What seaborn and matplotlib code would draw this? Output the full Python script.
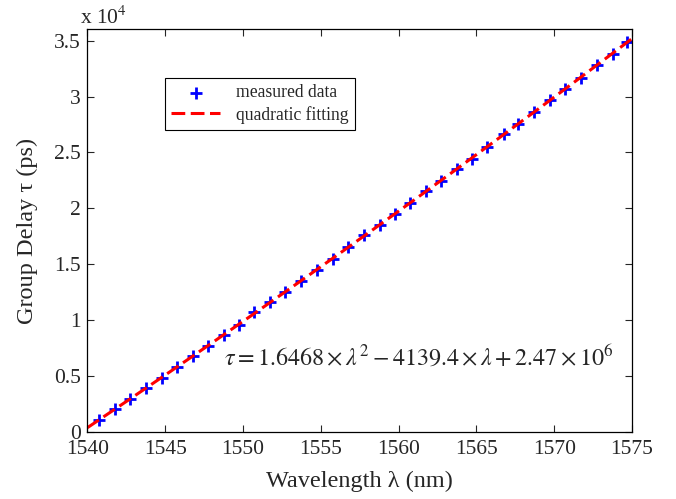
import matplotlib
matplotlib.use("Agg")
import matplotlib.pyplot as plt
import numpy as np
import pandas as pd
import seaborn as sns

# measured group delay
wavelength = [1540.75, 1541.77, 1542.73, 1543.76, 1544.81, 1545.73, 1546.80,
              1547.72, 1548.75, 1549.76, 1550.70, 1551.73, 1552.71, 1553.72,
              1554.73, 1555.76, 1556.76, 1557.77, 1558.80, 1559.76, 1560.73,
              1561.75, 1562.70, 1563.76, 1564.73, 1565.69, 1566.76, 1567.68,
              1568.69, 1569.72, 1570.69, 1571.72, 1572.73, 1573.76, 1574.69]
delay = [1070, 2030, 2970, 3960, 4880, 5860, 6790, 7710, 8700, 9620,
         10740, 11630, 12530, 13480, 14530, 15510, 16520, 17590, 18480,
         19530, 20470, 21580, 22470, 23510, 24440, 25470, 26630, 27530,
         28660, 29670, 30650, 31700, 32830, 33840, 34910]

x_ticks = [1540, 1545, 1550, 1555, 1560, 1565, 1570, 1575]
y_ticks = [0, 5000, 10000, 15000, 20000, 25000, 30000, 35000]
y_tick_labels = ["0", "0.5", "1", "1.5", "2", "2.5", "3", "3.5"]
equation = (r"$\tau = 1.6468\times\lambda^2 - 4139.4\times\lambda"
            r" + 2.47\times10^6$")

sns.set_style("ticks")
plt.rcParams["font.family"] = ["Liberation Serif", "DejaVu Serif"]
plt.rcParams["mathtext.fontset"] = "stix"

df = pd.DataFrame({"Wavelength": wavelength, "Delay": delay})

# quadratic fit of the measured points
coef = np.polyfit(df["Wavelength"], df["Delay"], 2)
fit = pd.DataFrame({"Wavelength": np.linspace(1540, 1575, 200)})
fit["Delay"] = np.polyval(coef, fit["Wavelength"])

fig = plt.figure(figsize=(6.76, 4.99), dpi=100)
ax = fig.add_axes([0.1294, 0.134, 0.8055, 0.807])

sns.scatterplot(df, x="Wavelength", y="Delay", marker="+", s=80,
                color="blue", linewidth=2, label="measured data", ax=ax)
sns.lineplot(fit, x="Wavelength", y="Delay", color="red", linewidth=2.2,
             label="quadratic fitting", ax=ax)
ax.lines[0].set_dashes([4.5, 1.8])

ax.set_xlim(1540, 1575)
ax.set_ylim(0, 36000)
ax.set_xticks(x_ticks)
ax.set_yticks(y_ticks)
ax.set_yticklabels(y_tick_labels)
ax.tick_params(direction="in", top=True, right=True, length=5,
               labelsize=15.5, width=0.8)
ax.tick_params(axis="x", pad=6)
ax.tick_params(axis="y", pad=5)
for s in ax.spines.values():
    s.set_linewidth(0.9)
    s.set_color("black")

ax.set_xlabel("Wavelength λ (nm)", fontsize=17.5, labelpad=8)
ax.set_ylabel("Group Delay τ (ps)", fontsize=17.5, labelpad=11)
fig.text(80 / 676, 1 - 18 / 499, "x 10$^4$", fontsize=15.5,
         ha="left", va="center")

ax.text(1548.8, 6700, equation, fontsize=17.3, ha="left", va="center")

leg = ax.legend(loc="upper left", bbox_to_anchor=(0.142, 0.879),
                borderaxespad=0, fontsize=12.7, fancybox=False,
                framealpha=1, edgecolor="black", handlelength=2.8,
                handletextpad=0.9, borderpad=0.35, labelspacing=0.25)
leg.get_frame().set_linewidth(0.8)

fig.savefig("out.png", dpi=100)
